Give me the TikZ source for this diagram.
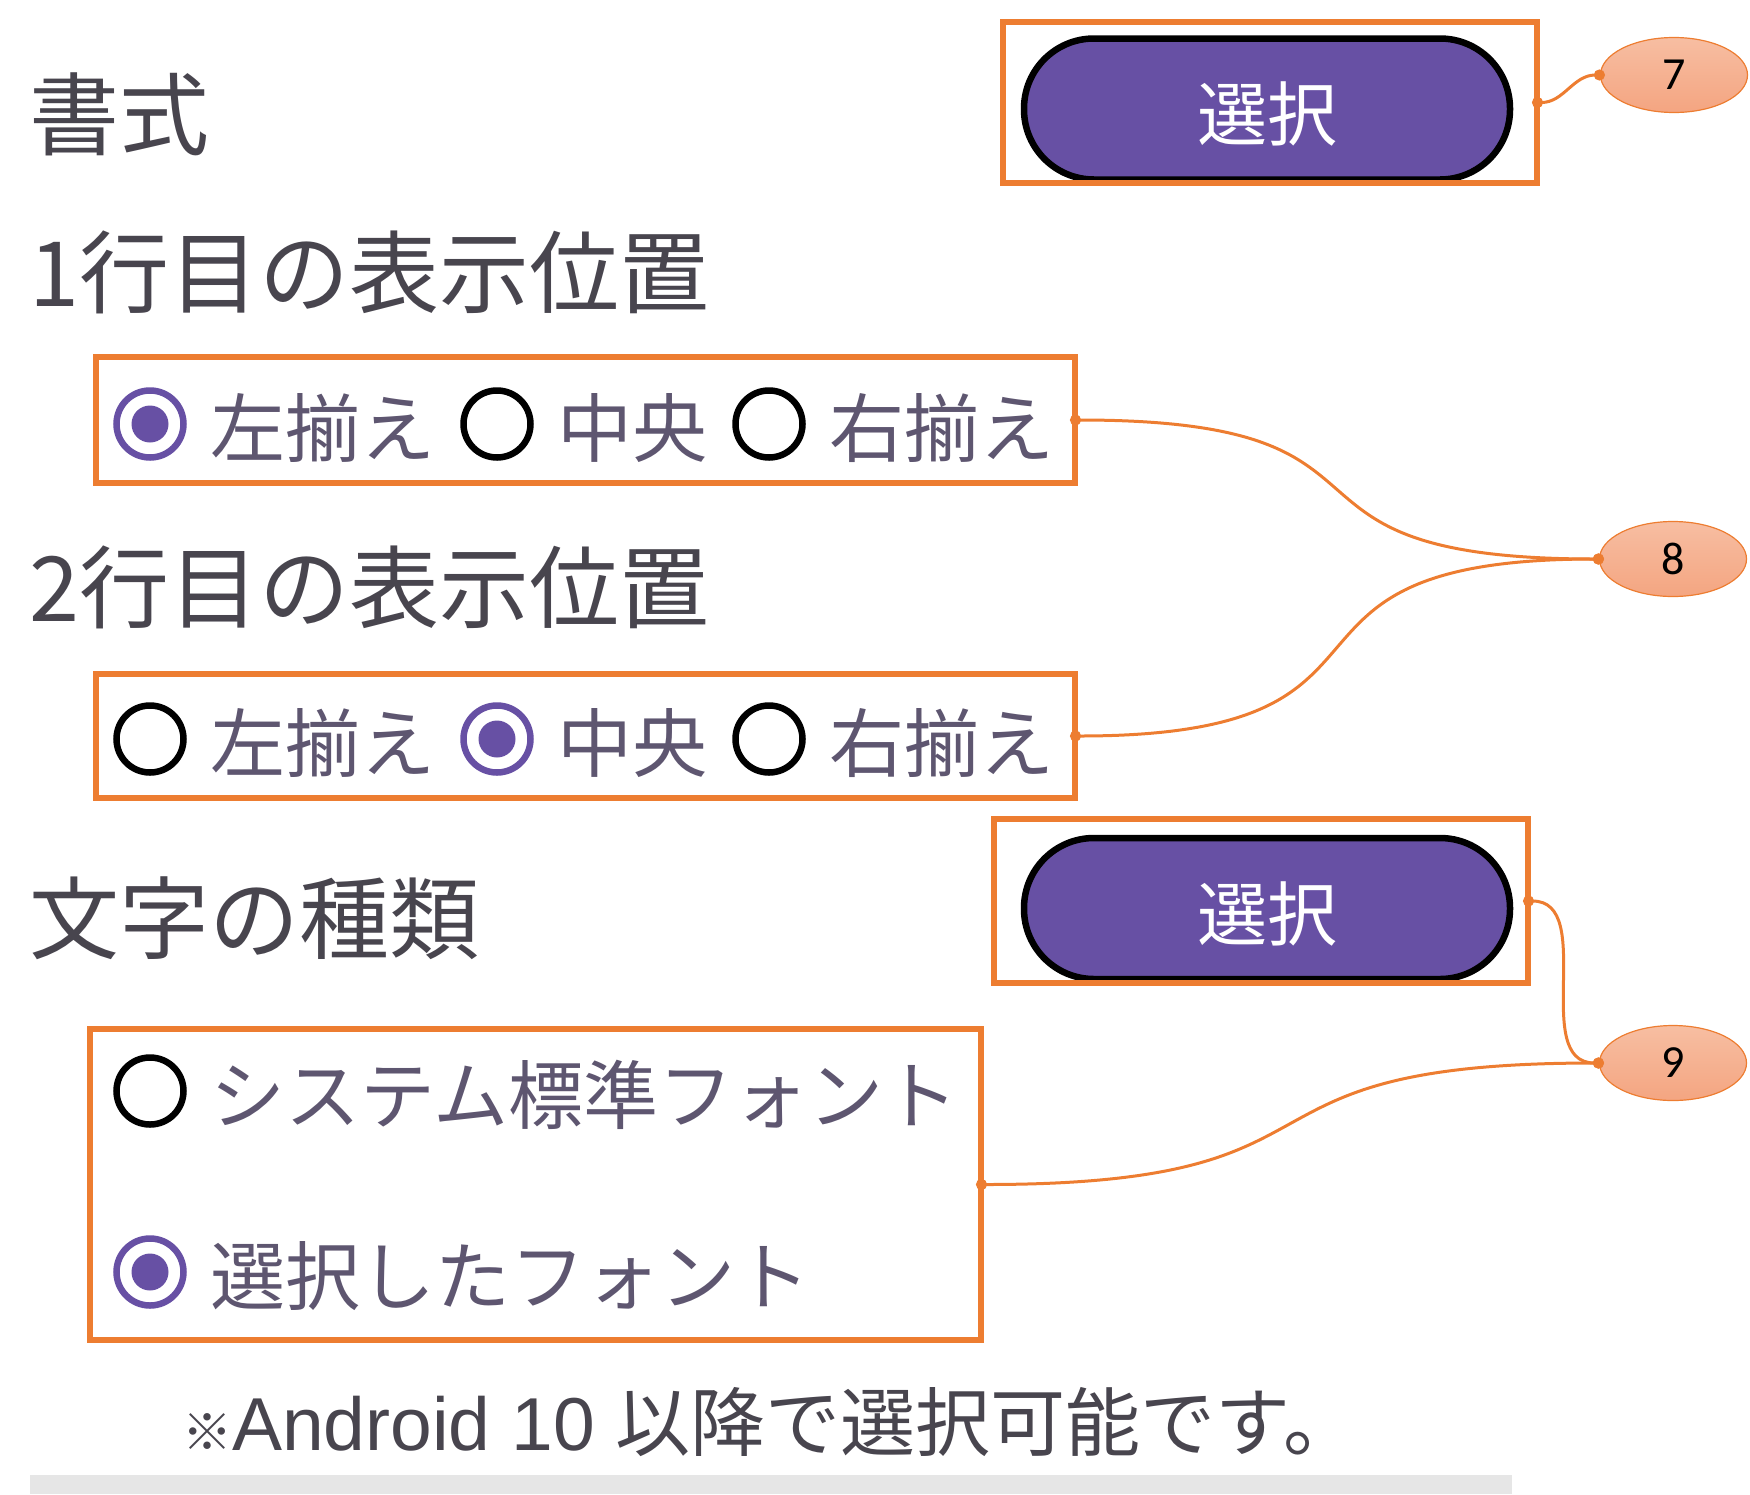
\documentclass[tikz,border=0pt]{standalone}
\usepackage{fontspec}
\setmainfont{Noto Sans CJK JP}
\newfontfamily\calloutfont{Carlito}
\newfontfamily\latinfont{Liberation Sans}
\usetikzlibrary{positioning,shapes.geometric,arrows.meta}
\definecolor{hlorange}{HTML}{ED7D31}
\definecolor{btnpurple}{HTML}{6750A4}
\definecolor{titlegray}{HTML}{48454E}
\definecolor{optgray}{HTML}{5E5670}
\definecolor{peachtop}{HTML}{F7BEA2}
\definecolor{peachbot}{HTML}{F4A581}
\definecolor{bargray}{HTML}{E6E6E6}
\begin{document}
\begin{tikzpicture}[x=1pt,y=-1pt,
  title/.style={anchor=west,inner sep=0,text=titlegray,font=\fontsize{90pt}{100pt}\selectfont},
  optlabel/.style={anchor=west,inner sep=0,yshift=-4pt,text=optgray,font=\fontsize{75pt}{85pt}\selectfont},
  radiooff/.style={circle,draw=black,line width=6.5pt,minimum size=67pt,inner sep=0},
  radioon/.style={radiooff,draw=btnpurple,path picture={\fill[btnpurple] (path picture bounding box.center) circle[radius=18.5pt];}},
  hlbox/.style={draw=hlorange,line width=6pt,inner sep=0,outer sep=0},
  pill/.style={fill=btnpurple,draw=black,line width=6.5pt,rounded corners=70pt,minimum width=486pt,minimum height=141pt,text height=63pt,text depth=0pt,text=white,font=\fontsize{70pt}{80pt}\selectfont},
  callout/.style={ellipse,draw=hlorange,line width=1.2pt,top color=peachtop,bottom color=peachbot,minimum width=147pt,minimum height=75pt,inner sep=0,font=\calloutfont\fontsize{46pt}{50pt}\selectfont},
  link/.style={draw=hlorange,line width=3pt,{Circle[length=11pt]}-{Circle[length=11pt]},shorten <=-5pt,shorten >=-5pt}
  ]
  \useasboundingbox (0,0) rectangle (1750,1494);
  % 書式
  \node[title] (fmt) at (29,114) {書式};
  \node[pill] (sel7) at (1267,109) {選択};
  \node[hlbox,minimum width=534pt,minimum height=161pt] (box7) at (1270,102.5) {};
  \node[callout] (c7) at (1674,75) {7};
  \draw[link] (box7.east) to[out=0,in=180] (c7.west);
  % 1行目
  \node[title] (row1) at (29,272) {1行目の表示位置};
  \node[radioon] (r1l) at (150,424) {};
  \node[optlabel,right=24pt of r1l] (t1l) {左揃え};
  \node[radiooff] (r1c) at (497,424) {};
  \node[optlabel,right=24pt of r1c] (t1c) {中央};
  \node[radiooff] (r1r) at (769,424) {};
  \node[optlabel,right=24pt of r1r] (t1r) {右揃え};
  \node[hlbox,minimum width=979pt,minimum height=126pt] (boxA) at (585.5,420) {};
  % 2行目
  \node[title] (row2) at (29,587) {2行目の表示位置};
  \node[radiooff] (r2l) at (150,739) {};
  \node[optlabel,right=24pt of r2l] (t2l) {左揃え};
  \node[radioon] (r2c) at (497,739) {};
  \node[optlabel,right=24pt of r2c] (t2c) {中央};
  \node[radiooff] (r2r) at (769,739) {};
  \node[optlabel,right=24pt of r2r] (t2r) {右揃え};
  \node[hlbox,minimum width=979pt,minimum height=124pt] (boxB) at (585.5,736) {};
  \node[callout] (c8) at (1673,559) {8};
  \draw[link] (boxA.east) to[out=0,in=180,looseness=1.7] (c8.west);
  \draw[link] (boxB.east) to[out=0,in=180,looseness=1.7] (c8.west);
  % 文字の種類
  \node[title] (kind) at (29,918) {文字の種類};
  \node[pill] (sel9) at (1267,908.5) {選択};
  \node[hlbox,minimum width=534pt,minimum height=164pt] (box9) at (1261,901) {};
  \node[callout] (c9) at (1673,1063) {9};
  \draw[link] (box9.east) to[out=0,in=180] (c9.west);
  \node[radiooff] (fsys) at (150,1091) {};
  \node[optlabel,right=24pt of fsys] (tsys) {システム標準フォント};
  \node[radioon] (fsel) at (150,1272) {};
  \node[optlabel,right=24pt of fsel] (tsel) {選択したフォント};
  \node[hlbox,minimum width=891pt,minimum height=311pt] (boxF) at (535.5,1184.5) {};
  \draw[link] (boxF.east) to[out=0,in=180,looseness=1.6] (c9.west);
  % note
  \node[title,font=\fontsize{75pt}{85pt}\selectfont] (note) at (182,1422) {{\fontsize{50pt}{55pt}\selectfont ※}{\latinfont Android 10 }以降で選択可能です。};
  \fill[bargray] (30,1475) rectangle (1512,1494);
\end{tikzpicture}
\end{document}
